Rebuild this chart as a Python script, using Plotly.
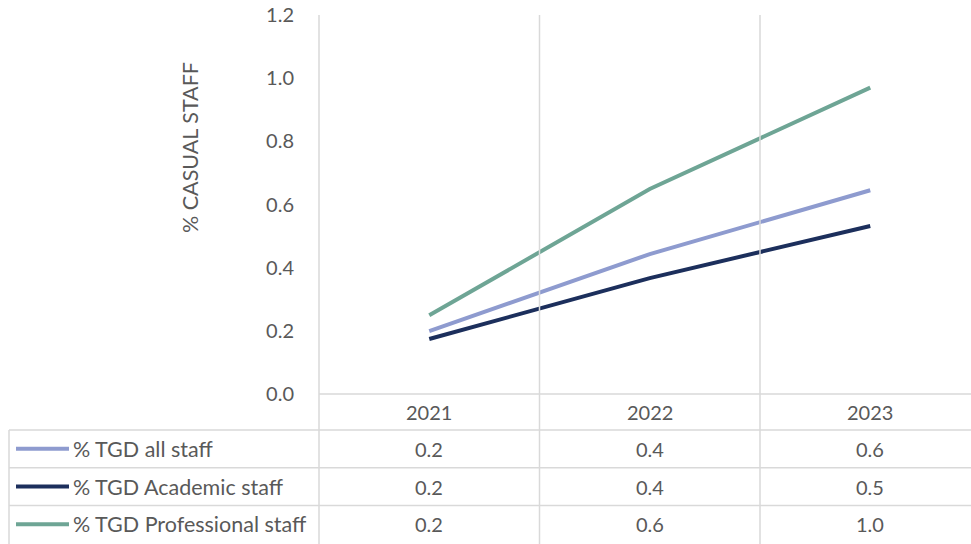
import plotly.graph_objects as go

years = ["2021", "2022", "2023"]
series_names = ["% TGD all staff", "% TGD Academic staff", "% TGD Professional staff"]
all_staff = [0.199, 0.443, 0.645]
academic_staff = [0.174, 0.367, 0.532]
professional_staff = [0.249, 0.649, 0.970]
series_values = [all_staff, academic_staff, professional_staff]
colors = ["#8E9BCF", "#1C2F5C", "#6EA595"]
y_ticks = [0.0, 0.2, 0.4, 0.6, 0.8, 1.0, 1.2]

W, H = 971, 544
L, R, T, B = 319, 0, 15, 150
plot_w = W - L - R
plot_h = H - T - B
cat_w = 220.5
x_min = -0.5
x_max = x_min + plot_w / cat_w

FONT = "Lato"
TXT = "#595959"
GRID = "#D9D9D9"
FS_NUM = 20
FS_TXT = 21.5

def xp(px):
    return (px - L) / plot_w

def yp(py):
    return (H - B - py) / plot_h

def xd2p(xd):
    return (xd - x_min) / (x_max - x_min)

fig = go.Figure()
xs = list(range(len(years)))
for name, vals, col in zip(series_names, series_values, colors):
    fig.add_trace(go.Scatter(x=xs, y=vals, mode="lines", name=name,
                             line=dict(color=col, width=4), showlegend=False))

shapes = []
line_style = dict(color=GRID, width=1.5)
# vertical grid lines through plot and table
for i in range(len(years) + 1):
    xd = i - 0.5
    if xd > x_max:
        continue
    shapes.append(dict(type="line", xref="paper", yref="paper",
                       x0=xd2p(xd), x1=xd2p(xd), y0=yp(H), y1=yp(T), line=line_style))
# table horizontal lines
row_h = 37.7
header_top = H - B
shapes.append(dict(type="line", xref="paper", yref="paper", x0=0, x1=1,
                   y0=yp(header_top), y1=yp(header_top), line=line_style))
for k in range(len(series_names)):
    py = header_top + 36 + k * row_h
    shapes.append(dict(type="line", xref="paper", yref="paper", x0=xp(9), x1=1,
                       y0=yp(py), y1=yp(py), line=line_style))
# left border of legend column
shapes.append(dict(type="line", xref="paper", yref="paper", x0=xp(9), x1=xp(9),
                   y0=yp(H), y1=yp(header_top + 36), line=line_style))

annotations = []
# header
for i, yr in enumerate(years):
    annotations.append(dict(x=xd2p(i), y=yp(header_top + 18), xref="paper", yref="paper",
                            text=yr, showarrow=False, font=dict(family=FONT, size=FS_NUM, color=TXT),
                            xanchor="center", yanchor="middle"))
# rows
for k, (name, vals, col) in enumerate(zip(series_names, series_values, colors)):
    cy = header_top + 36 + k * row_h + row_h / 2
    shapes.append(dict(type="line", xref="paper", yref="paper", x0=xp(16), x1=xp(69),
                       y0=yp(cy), y1=yp(cy), line=dict(color=col, width=4)))
    annotations.append(dict(x=xp(71), y=yp(cy), xref="paper", yref="paper", text=name,
                            showarrow=False, font=dict(family=FONT, size=FS_TXT, color=TXT),
                            xanchor="left", yanchor="middle"))
    for i, v in enumerate(vals):
        annotations.append(dict(x=xd2p(i), y=yp(cy), xref="paper", yref="paper",
                                text=f"{v:.1f}", showarrow=False,
                                font=dict(family=FONT, size=FS_NUM, color=TXT),
                                xanchor="center", yanchor="middle"))
# y axis title
annotations.append(dict(x=xp(190), y=yp(148), xref="paper", yref="paper",
                        text="% CASUAL STAFF", textangle=-90, showarrow=False,
                        font=dict(family=FONT, size=FS_TXT, color=TXT),
                        xanchor="center", yanchor="middle"))

fig.update_layout(
    width=W, height=H,
    margin=dict(l=L, r=R, t=T, b=B, pad=0),
    paper_bgcolor="white", plot_bgcolor="white",
    xaxis=dict(range=[x_min, x_max], showgrid=False, zeroline=False,
               showticklabels=False, showline=False, ticks=""),
    yaxis=dict(range=[0, 1.2], tickvals=y_ticks, ticktext=[f"{t:.1f}" for t in y_ticks],
               showgrid=False, zeroline=False, showline=False, ticks="",
               ticklabelstandoff=24,
               tickfont=dict(family=FONT, size=FS_NUM, color=TXT)),
    shapes=shapes, annotations=annotations,
)
fig.write_html("out.html")
